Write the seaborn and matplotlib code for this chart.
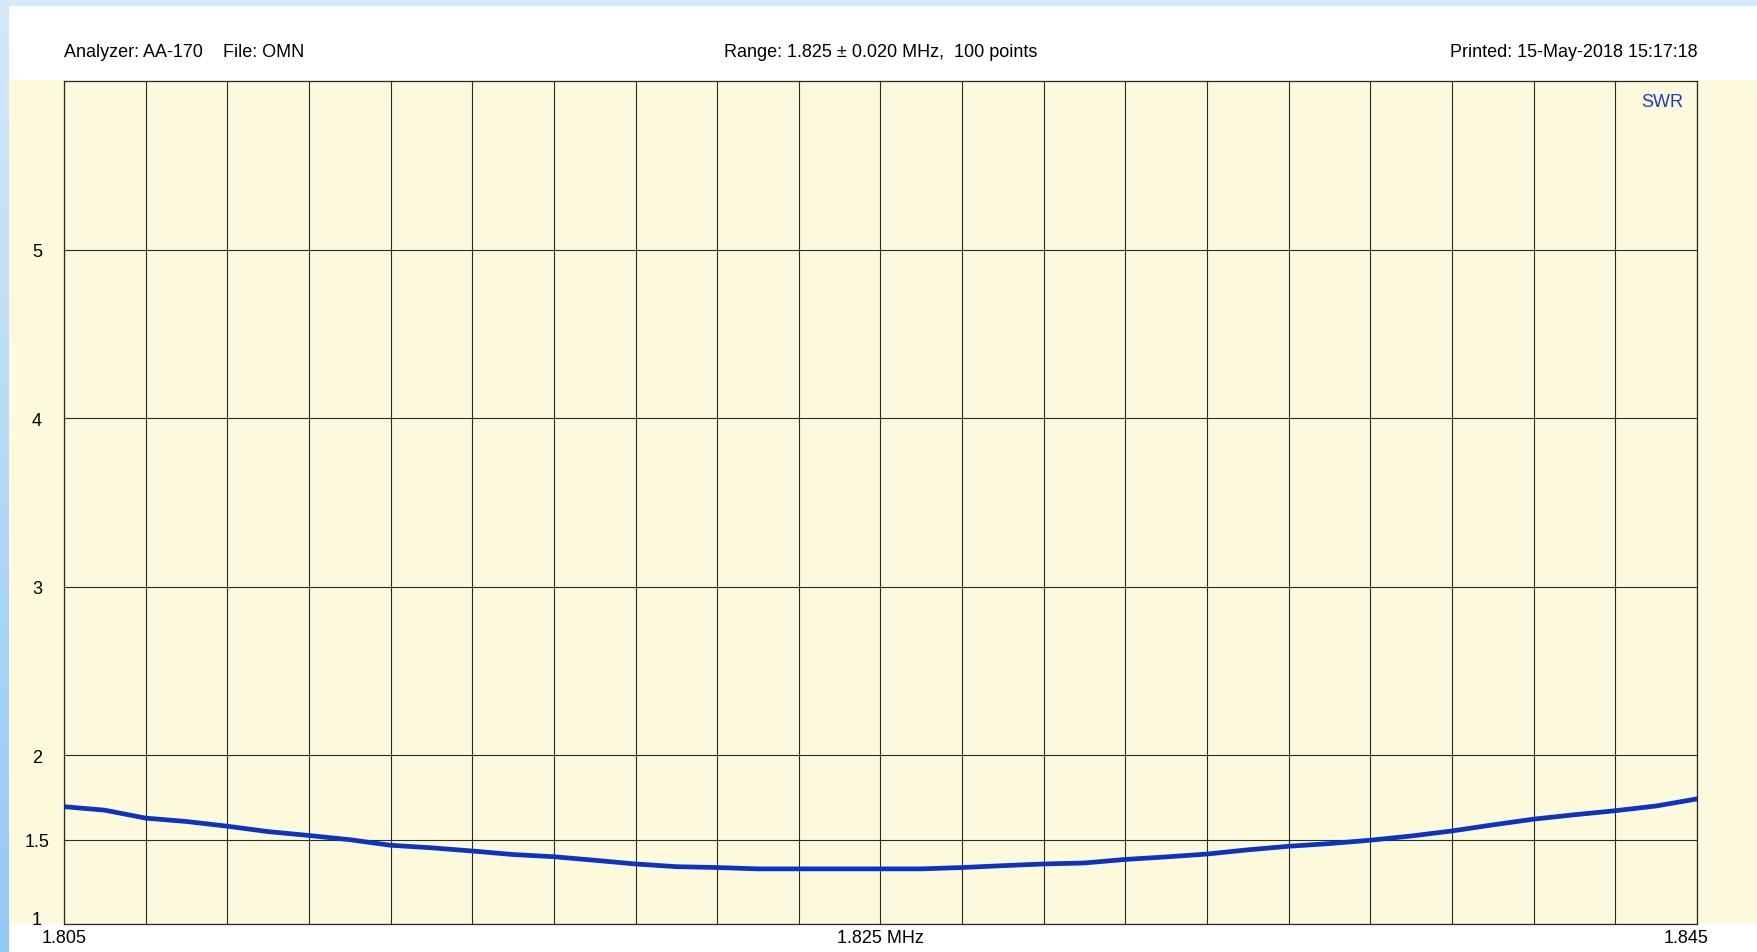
import numpy as np
import pandas as pd
import matplotlib
matplotlib.use("Agg")
import matplotlib.pyplot as plt
import seaborn as sns
from matplotlib import font_manager
from matplotlib.patches import Rectangle
from matplotlib.transforms import ScaledTranslation

# ---------------- data ----------------
freq_mhz = [1.805, 1.806, 1.807, 1.808, 1.809, 1.810, 1.811, 1.812, 1.813, 1.814,
            1.815, 1.816, 1.817, 1.818, 1.819, 1.820, 1.821, 1.822, 1.823, 1.824,
            1.825, 1.826, 1.827, 1.828, 1.829, 1.830, 1.831, 1.832, 1.833, 1.834,
            1.835, 1.836, 1.837, 1.838, 1.839, 1.840, 1.841, 1.842, 1.843, 1.844,
            1.845]
swr = [1.696, 1.675, 1.628, 1.608, 1.580, 1.548, 1.525, 1.500, 1.467, 1.452,
       1.433, 1.412, 1.399, 1.378, 1.356, 1.340, 1.335, 1.327, 1.327, 1.327,
       1.327, 1.327, 1.335, 1.346, 1.356, 1.362, 1.383, 1.398, 1.415, 1.440,
       1.461, 1.477, 1.497, 1.522, 1.552, 1.588, 1.622, 1.648, 1.672, 1.700,
       1.742]

y_ticks = [1, 1.5, 2, 3, 4, 5]
y_tick_labels = ["1", "1.5", "2", "3", "4", "5"]
x_grid = [round(1.805 + 0.002 * i, 3) for i in range(21)]
x_label_map = {1.805: "1.805", 1.825: "1.825 MHz", 1.845: "1.845"}

header_left = "Analyzer: AA-170"
header_file = "File: OMN"
header_mid = "Range: 1.825 \u00b1 0.020 MHz,  100 points"
header_right = "Printed: 15-May-2018 15:17:18"
series_name = "SWR"

df = pd.DataFrame({"freq": freq_mhz, "swr": swr})

# ---------------- style ----------------
sns.set_style("white")
names = {f.name for f in font_manager.fontManager.ttflist}
if "Liberation Sans Narrow" in names:
    fam, fs = "Liberation Sans Narrow", 15
else:
    fam, fs = "Liberation Sans", 13
plt.rcParams["font.family"] = [fam, "DejaVu Sans"]

W, H, DPI = 1758, 953, 100
fig = plt.figure(figsize=(W / DPI, H / DPI), dpi=DPI, facecolor="white")

cream = "#fdf9dc"
# cream band behind plot
fig.add_artist(Rectangle((9 / W, (H - 925) / H), 1 - 9 / W, (925 - 81) / H,
                         transform=fig.transFigure, facecolor=cream,
                         edgecolor="none", zorder=0))
# top blue strip
fig.add_artist(Rectangle((0, 1 - 7 / H), 1, 7 / H, transform=fig.transFigure,
                         facecolor="#d6eafa", edgecolor="none", zorder=0))

# left gradient strip
ax_strip = fig.add_axes([0, 0, 9 / W, 1])
grad = np.linspace(0, 1, 256).reshape(-1, 1)
from matplotlib.colors import LinearSegmentedColormap
cmap = LinearSegmentedColormap.from_list("strip", ["#d4e9fa", "#93c9f5"])
ax_strip.imshow(grad, aspect="auto", cmap=cmap, extent=[0, 1, 0, 1], origin="upper")
ax_strip.set_axis_off()

left, right, top, bottom = 64, 1697, 82, 925
ax = fig.add_axes([left / W, (H - bottom) / H, (right - left) / W, (bottom - top) / H])
ax.set_facecolor(cream)

sns.lineplot(data=df, x="freq", y="swr", ax=ax, color="#0c33c4", linewidth=3.4,
             legend=False)

ax.set_xlim(1.805, 1.845)
ax.set_ylim(1, 6)
ax.set_xlabel("")
ax.set_ylabel("")

ax.set_xticks(x_grid)
ax.set_xticklabels([x_label_map.get(v, "") for v in x_grid])
ax.set_yticks(y_ticks)
ax.set_yticklabels(y_tick_labels)

grid_col = "#2a2a2a"
ax.grid(True, color=grid_col, linewidth=0.8)
ax.set_axisbelow(True)
for s in ax.spines.values():
    s.set_color(grid_col)
    s.set_linewidth(0.9)

ax.tick_params(axis="x", length=0, pad=9.4, labelsize=fs, labelcolor="black")
ax.tick_params(axis="y", length=0, pad=19.4, labelsize=fs, labelcolor="black")

for lab in ax.get_yticklabels():
    lab.set_horizontalalignment("center")
ax.get_yticklabels()[0].set_verticalalignment("baseline")
for lab in ax.get_xticklabels():
    lab.set_verticalalignment("center")

last = ax.xaxis.get_major_ticks()[-1].label1
last.set_transform(last.get_transform() + ScaledTranslation(-10.5 / DPI, 0, fig.dpi_scale_trans))

# headers
yb = 1 - 57 / H
fig.text(64 / W, yb, header_left, ha="left", va="baseline", fontsize=fs, color="black")
fig.text(223 / W, yb, header_file, ha="left", va="baseline", fontsize=fs, color="black")
fig.text(881 / W, yb, header_mid, ha="center", va="baseline", fontsize=fs, color="black")
fig.text(1698 / W, yb, header_right, ha="right", va="baseline", fontsize=fs, color="black")

# series label
ax.text(1683 / W, 1 - 107.5 / H, series_name, transform=fig.transFigure, ha="right",
        va="baseline", fontsize=fs, color="#1a3cc0")

fig.savefig("out.png", dpi=DPI, facecolor="white")
